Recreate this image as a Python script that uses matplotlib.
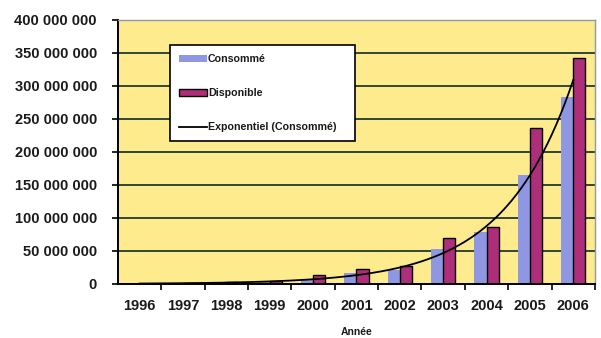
import numpy as np
import matplotlib
matplotlib.use('Agg')
import matplotlib.pyplot as plt
from matplotlib.ticker import FuncFormatter, MultipleLocator, FixedLocator

plt.rcParams['font.family'] = ['Liberation Sans', 'DejaVu Sans']

years = ['1996', '1997', '1998', '1999', '2000', '2001',
         '2002', '2003', '2004', '2005', '2006']
# values in millions
consomme = [0.5, 1.0, 2.0, 4.0, 8, 17, 21, 53, 79, 165, 283]
disponible = [0.0, 1.2, 2.2, 5.0, 13, 23, 27, 70, 86, 237, 342]

YELLOW = '#fdeb8e'
BLUE = '#8f96e2'
MAGENTA = '#ad2f79'
GRID = '#1f3a2f'
TEXT = '#1a1a1a'

x = np.arange(len(years))
cons = np.array(consomme) * 1e6
disp = np.array(disponible) * 1e6

# exponential trend fitted on the consumption series
coef = np.polyfit(x, np.log(cons), 1)
xs = np.linspace(x[0], x[-1], 300)
trend = np.exp(np.polyval(coef, xs))

fig = plt.figure(figsize=(6.01, 3.38), dpi=100)
ax = fig.add_axes([0.196, 0.160, 0.794, 0.781])
ax.set_facecolor(YELLOW)

w = 0.28
b1 = ax.bar(x - w / 2, cons, width=w, color=BLUE, linewidth=0, zorder=2)
b2 = ax.bar(x + w / 2, disp, width=w, color=MAGENTA, edgecolor='black',
            linewidth=1.0, zorder=2)
ln, = ax.plot(xs, trend, color='black', linewidth=1.3, zorder=3)

ax.set_xlim(-0.5, len(years) - 0.5)
ax.set_ylim(0, 400e6)

ax.yaxis.set_major_locator(MultipleLocator(50e6))
ax.yaxis.set_major_formatter(FuncFormatter(
    lambda v, p: f"{int(round(v)):,}".replace(',', ' ')))
ax.yaxis.grid(True, color=GRID, linewidth=1.3)
ax.set_axisbelow(True)

ax.set_xticks(x)
ax.set_xticklabels(years)
ax.xaxis.set_minor_locator(FixedLocator(np.arange(0.5, len(years), 1.0)))
ax.tick_params(axis='x', which='major', length=0, pad=11)
ax.tick_params(axis='x', which='minor', length=4, width=1.2, color='black')
ax.tick_params(axis='y', length=4, width=1.2, color='black', pad=11)
for lab in ax.get_xticklabels() + ax.get_yticklabels():
    lab.set_fontsize(10.5)
    lab.set_fontweight('bold')
    lab.set_color(TEXT)

for side in ['left', 'bottom']:
    ax.spines[side].set_color('black')
    ax.spines[side].set_linewidth(1.4)
for side in ['top', 'right']:
    ax.spines[side].set_color('#8a9ca8')
    ax.spines[side].set_linewidth(1.0)

ax.set_xlabel('Année', fontsize=7.5, fontweight='bold', color=TEXT, labelpad=10)

leg = ax.legend([b1, b2, ln], ['Consommé', 'Disponible', 'Exponentiel (Consommé)'],
                loc='upper left', bbox_to_anchor=(0.109, 0.557, 0.388, 0.348),
                mode='expand', borderaxespad=0, frameon=True, fancybox=False,
                framealpha=1, edgecolor='black', borderpad=0.85, labelspacing=2.25,
                handlelength=2.6, handleheight=0.55, handletextpad=0.1,
                prop={'size': 7.7, 'weight': 'bold'})
leg.get_frame().set_linewidth(1.2)
for t in leg.get_texts():
    t.set_color(TEXT)

fig.savefig('out.png', dpi=100)
